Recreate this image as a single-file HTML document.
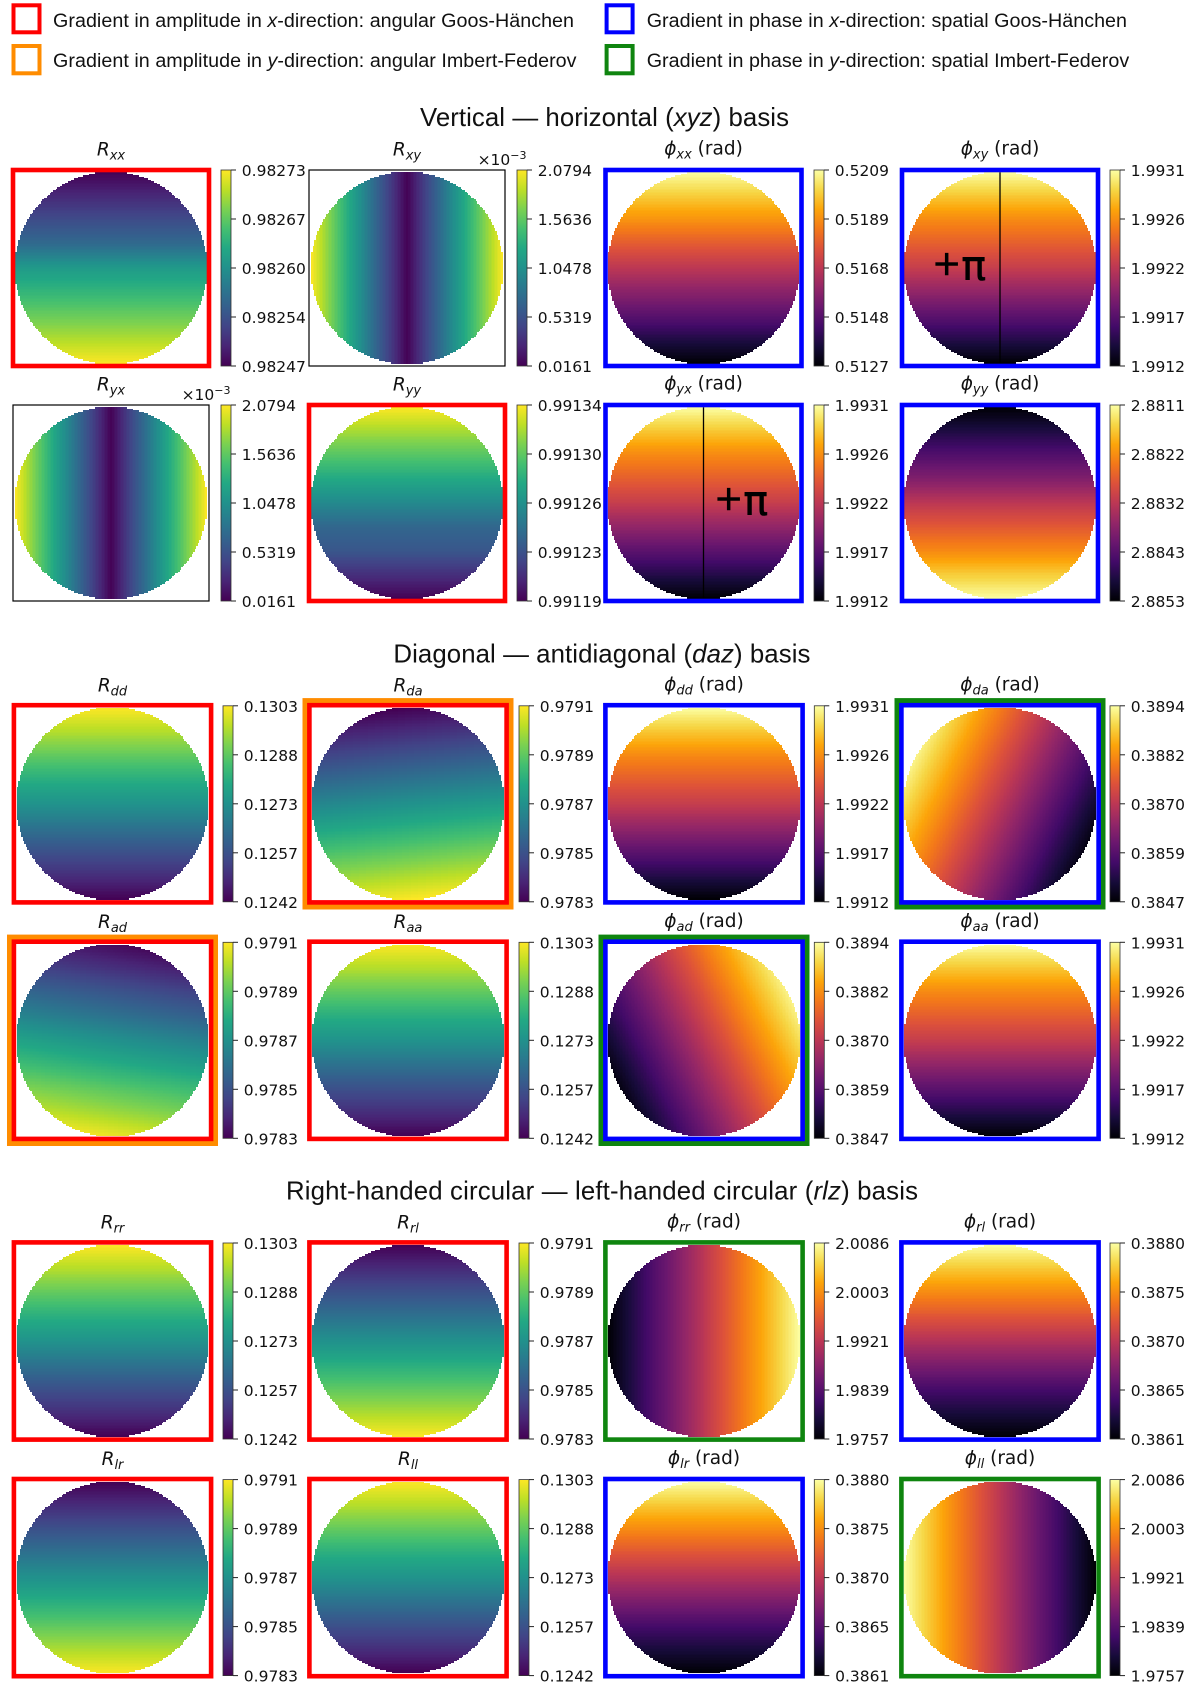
<!DOCTYPE html>
<html lang="en">
<head>
<meta charset="utf-8">
<title>Gradients in reflection amplitude and phase</title>
<style>
html,body{margin:0;padding:0;background:#fff;width:1200px;height:1685px;overflow:hidden}
svg{display:block}
.lg{font-family:"Liberation Sans",sans-serif;font-size:19.7px;fill:#111}
.hd{font-family:"Liberation Sans",sans-serif;font-size:25.8px;fill:#111}
.tk{font-family:"DejaVu Sans",sans-serif;font-size:15.5px;fill:#111}
.tt{font-family:"DejaVu Sans",sans-serif;font-size:18.5px;fill:#111}
.it{font-style:italic}
</style>
</head>
<body>
<svg id="figure" xmlns="http://www.w3.org/2000/svg" width="1200" height="1685" viewBox="0 0 1200 1685">
  <defs id="defs"></defs>
  <g>
    <rect x="13.5" y="5.3" width="26" height="27" fill="none" stroke="#ff0000" stroke-width="4"/>
    <text class="lg" x="53" y="27" textLength="521">Gradient in amplitude in <tspan class="it">x</tspan>-direction: angular Goos-Hänchen</text>
    <rect x="13.5" y="46" width="26" height="27.3" fill="none" stroke="#ff8c00" stroke-width="4"/>
    <text class="lg" x="53" y="67" textLength="523.5">Gradient in amplitude in <tspan class="it">y</tspan>-direction: angular Imbert-Federov</text>
    <rect x="606.6" y="5.3" width="26" height="27" fill="none" stroke="#0000ff" stroke-width="4"/>
    <text class="lg" x="646.7" y="27" textLength="480.3">Gradient in phase in <tspan class="it">x</tspan>-direction: spatial Goos-Hänchen</text>
    <rect x="606.6" y="46" width="26" height="27.3" fill="none" stroke="#0f850f" stroke-width="4"/>
    <text class="lg" x="646.7" y="67" textLength="482.5">Gradient in phase in <tspan class="it">y</tspan>-direction: spatial Imbert-Federov</text>
  </g>
  <text class="hd" x="420" y="126" textLength="369">Vertical — horizontal (<tspan class="it">xyz</tspan>) basis</text>
  <text class="hd" x="393.4" y="662.7" textLength="417">Diagonal — antidiagonal (<tspan class="it">daz</tspan>) basis</text>
  <text class="hd" x="286" y="1199.3" textLength="632">Right-handed circular — left-handed circular (<tspan class="it">rlz</tspan>) basis</text>
  <g id="panels"></g>
</svg>
<script>
// ---- colour-bar tick labels (top to bottom) ----
const ticksRxx = ['0.98273','0.98267','0.98260','0.98254','0.98247'];
const ticksCross = ['2.0794','1.5636','1.0478','0.5319','0.0161'];
const ticksPhiXX = ['0.5209','0.5189','0.5168','0.5148','0.5127'];
const ticksPhiCo = ['1.9931','1.9926','1.9922','1.9917','1.9912'];
const ticksRyy = ['0.99134','0.99130','0.99126','0.99123','0.99119'];
const ticksPhiYY = ['2.8811','2.8822','2.8832','2.8843','2.8853'];
const ticksLowR = ['0.1303','0.1288','0.1273','0.1257','0.1242'];
const ticksHighR = ['0.9791','0.9789','0.9787','0.9785','0.9783'];
const ticksPhiDA = ['0.3894','0.3882','0.3870','0.3859','0.3847'];
const ticksPhiRR = ['2.0086','2.0003','1.9921','1.9839','1.9757'];
const ticksPhiRL = ['0.3880','0.3875','0.3870','0.3865','0.3861'];

// ---- field profiles (top-to-bottom / left-to-right samples) ----
const rowsRxx = [0.98247,0.98250,0.98253,0.98256,0.98261,0.98264,0.98267,0.98270,0.98273];
const colsCross = [2.0794,1.5636,1.0478,0.5319,0.0161,0.5319,1.0478,1.5636,2.0794];
const rowsPhiXX = [0.5209,0.5199,0.5189,0.5178,0.5168,0.5158,0.5148,0.5137,0.5127];
const rowsPhiCo = [1.9931,1.99285,1.9926,1.9924,1.9922,1.99195,1.9917,1.99145,1.9912];
const rowsRyy = [0.99134,0.99132,0.99130,0.99128,0.99126,0.99124,0.99123,0.99121,0.99119];
const rowsPhiYY = [2.8853,2.8848,2.8843,2.8838,2.8832,2.8827,2.8822,2.8816,2.8811];
const rowsLowR = [0.1303,0.1296,0.1288,0.1280,0.1273,0.1265,0.1257,0.1250,0.1242];
const rowsHighR = [0.9783,0.9784,0.9785,0.9786,0.9787,0.9788,0.9789,0.9790,0.9791];
const colsRdaTilt = [-0.00004,-0.00003,-0.00002,-0.00001,0,0.00001,0.00002,0.00003,0.00004];
const rowsRad = [0.97832,0.97841,0.97851,0.97860,0.9787,0.97879,0.97889,0.97898,0.97908];
const colsRadTilt = [0.00006,0.000045,0.00003,0.000015,0,-0.000015,-0.00003,-0.000045,-0.00006];
const colsPhiDa = [0.38902,0.38853,0.38804,0.38754,0.38705,0.38656,0.38606,0.38557,0.38508];
const colsPhiAd = [0.38508,0.38557,0.38606,0.38656,0.38705,0.38754,0.38804,0.38853,0.38902];
const rowsPhiTilt = [0.00098,0.00074,0.00049,0.00025,0,-0.00025,-0.00049,-0.00074,-0.00098];
const colsPhiRr = [1.9757,1.9798,1.9839,1.9880,1.9921,1.9962,2.0003,2.0045,2.0086];
const colsPhiLl = [2.0086,2.0045,2.0003,1.9962,1.9921,1.9880,1.9839,1.9798,1.9757];
const rowsPhiRl = [0.3880,0.38775,0.3875,0.38725,0.3870,0.38675,0.3865,0.3863,0.3861];

// ---- panel categories ----
const panelGroups = ['xyz','xyz','xyz','xyz','xyz','xyz','xyz','xyz','daz','daz','daz','daz','daz','daz','daz','daz','rlz','rlz','rlz','rlz','rlz','rlz','rlz','rlz'];
const panelSubs = ['xx','xy','xx','xy','yx','yy','yx','yy','dd','da','dd','da','ad','aa','ad','aa','rr','rl','rr','rl','lr','ll','lr','ll'];
const panelKinds = ['R','R','phi','phi','R','R','phi','phi','R','R','phi','phi','R','R','phi','phi','R','R','phi','phi','R','R','phi','phi'];
const panelTicks = [ticksRxx,ticksCross,ticksPhiXX,ticksPhiCo,ticksCross,ticksRyy,ticksPhiCo,ticksPhiYY,
  ticksLowR,ticksHighR,ticksPhiCo,ticksPhiDA,ticksHighR,ticksLowR,ticksPhiDA,ticksPhiCo,
  ticksLowR,ticksHighR,ticksPhiRR,ticksPhiRL,ticksHighR,ticksLowR,ticksPhiRL,ticksPhiRR];
const panelRows = [rowsRxx,null,rowsPhiXX,rowsPhiCo,null,rowsRyy,rowsPhiCo,rowsPhiYY,
  rowsLowR,rowsHighR,rowsPhiCo,rowsPhiTilt,rowsRad,rowsLowR,rowsPhiTilt,rowsPhiCo,
  rowsLowR,rowsHighR,null,rowsPhiRl,rowsHighR,rowsLowR,rowsPhiRl,null];
const panelCols = [null,colsCross,null,null,colsCross,null,null,null,
  null,colsRdaTilt,null,colsPhiDa,colsRadTilt,null,colsPhiAd,null,
  null,null,colsPhiRr,null,null,null,null,colsPhiLl];
const panelFrames = ['red','none','blue','blue','none','red','blue','blue',
  'red','red','blue','blue','red','red','blue','blue',
  'red','red','green','blue','red','red','blue','green'];
const panelHalos = ['','','','','','','','',
  '','orange','','green','orange','','green','',
  '','','','','','','',''];
const panelExponent = ['','e-3','','','e-3','','','','','','','','','','','','','','','','','','',''];
const panelPlusPi = ['','','','left','','','right','','','','','','','','','','','','','','','','',''];

// ---- colour maps ----
const viridisStops = ['#440154','#482475','#414487','#355f8d','#2a788e','#21918c','#22a884','#44bf70','#7ad151','#bddf26','#fde725'];
const infernoStops = ['#000004','#160b39','#420a68','#6a176e','#932667','#bc3754','#dd513a','#f37819','#fca50a','#f6d746','#fcffa4'];

// ---- layout ----
const SVGNS = 'http://www.w3.org/2000/svg';
const GRID = 128;
const RADIUS = 95.8;
const COLOURS = {red:'#ff0000',blue:'#0000ff',green:'#0f850f',orange:'#ff8c00',none:'#000000'};

function layoutX(group, col){
  const xyz = [111, 407, 703.5, 1000];
  const rest = [112.5, 408, 704, 1000];
  return group === 'xyz' ? xyz[col] : rest[col];
}
function barX(group, col){
  const xyz = [221, 517, 814, 1110];
  const rest = [223, 519, 814.3, 1110];
  return group === 'xyz' ? xyz[col] : rest[col];
}
function layoutY(index){
  const centres = [268, 503, 803.8, 1040.3, 1341, 1577.6];
  return centres[Math.floor(index / 4)];
}
function el(name, attrs, parent){
  const node = document.createElementNS(SVGNS, name);
  for (const k in attrs) node.setAttribute(k, attrs[k]);
  parent.appendChild(node);
  return node;
}
function hexToRgb(h){ return [1,3,5].map(i => parseInt(h.substr(i,2),16)); }
function buildLut(stops){
  const lut = [];
  for (let i = 0; i < 256; i++){
    const t = i / 255 * (stops.length - 1);
    const a = Math.min(Math.floor(t), stops.length - 2);
    const f = t - a;
    const c0 = hexToRgb(stops[a]), c1 = hexToRgb(stops[a + 1]);
    lut.push('rgb(' + c0.map((v, j) => Math.round(v + (c1[j] - v) * f)).join(',') + ')');
  }
  return lut;
}
const lutR = buildLut(viridisStops);
const lutPhi = buildLut(infernoStops);

function sample(arr, t){
  if (!arr) return 0;
  const p = Math.max(0, Math.min(1, t)) * (arr.length - 1);
  const a = Math.min(Math.floor(p), arr.length - 2);
  return arr[a] + (arr[a + 1] - arr[a]) * (p - a);
}
function colourIndex(value, ticks){
  const top = parseFloat(ticks[0]);
  const bottom = parseFloat(ticks[ticks.length - 1]);
  const n = (value - bottom) / (top - bottom);
  return Math.max(0, Math.min(255, Math.round(n * 255)));
}
function inDisk(r, c){
  const u = (c + 0.5) / GRID * 2 - 1;
  const v = (r + 0.5) / GRID * 2 - 1;
  return u * u + v * v <= 1.012;
}

// gradients for colour bars
const defs = document.getElementById('defs');
[['grad-R', viridisStops], ['grad-phi', infernoStops]].forEach(function(item){
  const g = el('linearGradient', {id:item[0], x1:0, y1:1, x2:0, y2:0}, defs);
  item[1].forEach(function(col, i){
    el('stop', {offset: i / (item[1].length - 1), 'stop-color': col}, g);
  });
});

function drawCells(parent, i, cx, cy){
  const rows = panelRows[i], cols = panelCols[i], ticks = panelTicks[i];
  const lut = panelKinds[i] === 'R' ? lutR : lutPhi;
  const cell = 2 * RADIUS / GRID;
  const left = cx - RADIUS, top = cy - RADIUS;
  const edgeX = function(k){ return Math.round(left + k * cell); };
  const edgeY = function(k){ return Math.round(top + k * cell); };
  const valueAt = function(r, c){
    return sample(rows, (r + 0.5) / GRID) + sample(cols, (c + 0.5) / GRID);
  };
  const g = el('g', {'shape-rendering':'crispEdges'}, parent);
  
  
  const byRow = !!rows;
  for (let a = 0; a < GRID; a++){
    let start = -1, current = -1;
    for (let b = 0; b <= GRID; b++){
      const r = byRow ? a : b, c = byRow ? b : a;
      const inside = b < GRID && inDisk(r, c);
      const idx = inside ? colourIndex(valueAt(r, c), ticks) : -1;
      if (idx !== current){
        if (current >= 0){
          const x0 = edgeX(byRow ? start : a), x1 = edgeX(byRow ? b : a + 1);
          const y0 = edgeY(byRow ? a : start), y1 = edgeY(byRow ? a + 1 : b);
          if (x1 > x0 && y1 > y0){
            const rect = document.createElementNS(SVGNS, 'rect');
            
            
            rect.setAttribute('x', x0);
            rect.setAttribute('y', y0);
            rect.setAttribute('width', x1 - x0);
            rect.setAttribute('height', y1 - y0);
            rect.setAttribute('fill', lut[current]);
            g.appendChild(rect);
          }
        }
        start = b;
        current = idx;
      }
    }
  }
}

function drawTitle(parent, i, cx, top){
  const isR = panelKinds[i] === 'R';
  const t = el('text', {class:'tt', x:cx, y: top - (isR ? 14.5 : 15.5), 'text-anchor':'middle'}, parent);
  
  
  const a = el('tspan', {class:'it'}, t);
  a.textContent = isR ? 'R' : '\u03D5';
  const b = el('tspan', {class:'it', dy:4, 'font-size':13}, t);
  b.textContent = panelSubs[i];
  if (!isR){
    const c = el('tspan', {dy:-4}, t);
    c.textContent = '\u00A0(rad)';
  }
}

function drawColourbar(parent, i, x, cy){
  const ticks = panelTicks[i];
  const h = 196, w = 10, top = cy - 98;
  const g = el('g', {}, parent);
  
  
  const bar = el('rect', {x:x, y:top, width:w, height:h, fill:'url(#' + (panelKinds[i] === 'R' ? 'grad-R' : 'grad-phi') + ')', stroke:'#333', 'stroke-width':0.8}, g);
  
  
  ticks.forEach(function(label, k){
    const y = top + k / (ticks.length - 1) * h;
    const tick = el('line', {x1:x + w, x2:x + w + 5, y1:y, y2:y, stroke:'#222', 'stroke-width':1}, g);
    
    
    const txt = el('text', {class:'tk', x:x + 20.8, y:y + 6}, g);
    
    
    txt.textContent = label;
  });
  if (panelExponent[i]){
    const t = el('text', {class:'tk', x:x + 9.5, y:top - 5, 'text-anchor':'end'}, g);
    
    
    const p = el('tspan', {}, t);
    p.textContent = '\u00D710';
    const s = el('tspan', {dy:-6, 'font-size':11}, t);
    s.textContent = '\u22123';
  }
}

function drawFrame(parent, i, cx, cy){
  const half = panelGroups[i] === 'xyz' ? 98 : 98.6;
  const kind = panelFrames[i];
  if (panelHalos[i]){
    const o = el('rect', {x:cx - 103, y:cy - 103.2, width:206, height:206.4, fill:'none', stroke:COLOURS[panelHalos[i]], 'stroke-width':5}, parent);
    
    
  }
  const f = el('rect', {x:cx - half, y:cy - half, width:half * 2, height:half * 2, fill:'none', stroke:COLOURS[kind], 'stroke-width':kind === 'none' ? 1.2 : 4.6}, parent);
  
  
}

const root = document.getElementById('panels');
panelSubs.forEach(function(sub, i){
  const group = panelGroups[i];
  const col = i % 4;
  const cx = layoutX(group, col);
  const cy = layoutY(i);
  const g = el('g', {}, root);
  
  
  drawTitle(g, i, cx, cy - 98);
  drawCells(g, i, cx, cy);
  if (panelPlusPi[i]){
    const line = el('line', {x1:cx, x2:cx, y1:cy - RADIUS, y2:cy + RADIUS, stroke:'#000', 'stroke-width':1.3}, g);
    
    
    const label = el('text', {x: panelPlusPi[i] === 'left' ? cx - 68 : cx + 10.5, y: cy + 7, 'font-family':'"DejaVu Sans",sans-serif', 'font-size':35, fill:'#000', stroke:'#000', 'stroke-width':0.6}, g);
    
    
    const plus = el('tspan', {}, label);
    plus.textContent = '+';
    const pi = el('tspan', {dy:5, 'font-size':41}, label);
    pi.textContent = '\u03C0';
  }
  drawFrame(g, i, cx, cy);
  drawColourbar(g, i, barX(group, col), cy);
});
</script>
</body>
</html>
